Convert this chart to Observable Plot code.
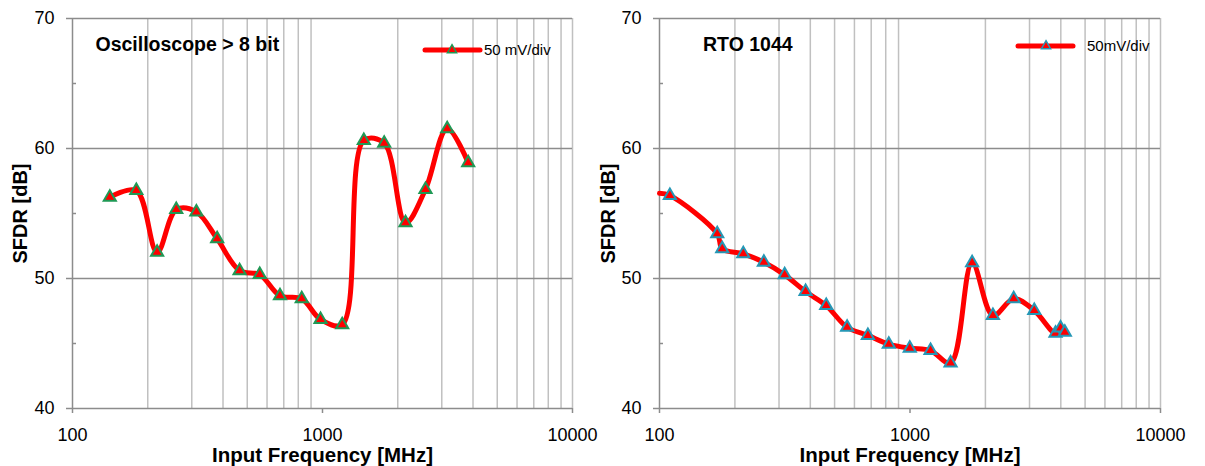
<!DOCTYPE html>
<html>
<head>
<meta charset="utf-8">
<script src="https://cdn.jsdelivr.net/npm/d3@7"></script>
<script src="https://cdn.jsdelivr.net/npm/@observablehq/plot@0.6"></script>
<style>
  html, body { margin: 0; padding: 0; background: #fff; }
  #wrap { display: flex; width: 1205px; height: 466px; background: #fff; }
  svg { display: block; overflow: visible; }
</style>
</head>
<body>
<div id="wrap"></div>
<script>
// ---- Data ----
const leftFreq = [141, 180, 218, 260, 313, 379, 466, 561, 676, 826, 982, 1199, 1463, 1765, 2148, 2582, 3153, 3826];
const leftSfdr = [56.25, 56.77, 52.02, 55.3, 55.12, 53.05, 50.6, 50.3, 48.67, 48.44, 46.85, 46.44, 60.62, 60.41, 54.28, 56.85, 61.52, 58.9];

const rightFreq = [100, 110, 170, 178, 216, 261, 316, 383, 463, 561, 679, 823, 998, 1208, 1452, 1770, 2143, 2594, 3134, 3810, 3990, 4150];
const rightSfdr = [56.55, 56.38, 53.44, 52.28, 51.9, 51.25, 50.28, 49.0, 47.92, 46.25, 45.62, 44.95, 44.64, 44.46, 43.5, 51.21, 47.15, 48.44, 47.54, 45.79, 46.2, 45.87];

const xTicks = [100, 1000, 10000];
const xGrid = [200, 300, 400, 500, 600, 700, 800, 900, 2000, 3000, 4000, 5000, 6000, 7000, 8000, 9000, 10000];
const yTicks = [40, 50, 60, 70];
const yGrid = [50, 60, 70];
const yMinor = [45, 55, 65];

const xLabel = "Input Frequency [MHz]";
const yLabel = "SFDR [dB]";

const leftTitle = "Oscilloscope > 8 bit";
const rightTitle = "RTO 1044";
const leftLegend = "50 mV/div";
const rightLegend = "50mV/div";

// ---- helpers ----
function legendMark(cfg) {
  return () => {
    const g = d3.create("svg:g");
    g.append("line")
      .attr("x1", cfg.x1).attr("x2", cfg.x2).attr("y1", cfg.y).attr("y2", cfg.y)
      .attr("stroke", "#ff0000").attr("stroke-width", 5).attr("stroke-linecap", "round");
    g.append("path")
      .attr("d", d3.symbol(d3.symbolTriangle, 36)())
      .attr("transform", `translate(${cfg.mx},${cfg.y})`)
      .attr("fill", "#ff0000").attr("stroke", cfg.stroke).attr("stroke-width", 1.5);
    g.append("text")
      .attr("x", cfg.tx).attr("y", cfg.y).attr("dy", "0.35em")
      .attr("text-anchor", "start")
      .attr("font-size", 15).attr("fill", "#000")
      .attr("font-family", "'Liberation Sans', Arial, sans-serif")
      .text(cfg.label);
    return g.node();
  };
}

function panel(cfg) {
  const data = cfg.freq.map((f, i) => ({f, v: cfg.sfdr[i]}));
  const markers = data.filter(d => d.f > 100);
  return Plot.plot({
    width: cfg.width,
    height: 466,
    marginLeft: cfg.marginLeft,
    marginRight: cfg.marginRight,
    marginTop: 18,
    marginBottom: 58,
    style: {fontFamily: "'Liberation Sans', Arial, sans-serif", background: "transparent", color: "#000", overflow: "visible"},
    x: {type: "log", domain: [100, 10000]},
    y: {domain: [40, 70]},
    marks: [
      Plot.ruleX(xGrid, {stroke: "#c0c0c0", strokeWidth: 1.5}),
      Plot.ruleY(yGrid, {stroke: "#8c8c8c", strokeWidth: 1.5}),
      Plot.ruleX([100], {stroke: "#8c8c8c", strokeWidth: 1.5}),
      Plot.ruleY([40], {stroke: "#8c8c8c", strokeWidth: 1.5}),
      Plot.axisX(xTicks, {
        tickSize: 5, tickPadding: 15, fontSize: 18, stroke: "#8c8c8c", strokeWidth: 1.5,
        tickFormat: d => String(d), label: null
      }),
      Plot.axisY(yTicks, {
        tickSize: 6, tickPadding: 12, fontSize: 18, stroke: "#8c8c8c", strokeWidth: 1.5,
        tickFormat: d => String(d), label: null
      }),
      Plot.axisY(yMinor, {
        tickSize: -4, tickPadding: 0, stroke: "#8c8c8c", strokeWidth: 1.5,
        tickFormat: () => "", label: null
      }),
      Plot.line(data, {x: "f", y: "v", curve: "catmull-rom", stroke: "#ff0000", strokeWidth: 5, strokeLinejoin: "round"}),
      Plot.dot(markers, {x: "f", y: "v", symbol: "triangle", r: 4.5, fill: "#ff0000", stroke: cfg.markerStroke, strokeWidth: 2}),
      Plot.text([cfg.title], {
        frameAnchor: "top-left", dx: cfg.titleDx, dy: 26, textAnchor: "start", lineAnchor: "middle",
        fontSize: 19.5, fontWeight: "bold", fill: "#000"
      }),
      Plot.text([yLabel], {
        frameAnchor: "left", dx: cfg.yLabelDx, rotate: -90, lineAnchor: "middle", textAnchor: "middle",
        fontSize: 20, fontWeight: "bold", fill: "#000"
      }),
      Plot.text([xLabel], {
        frameAnchor: "bottom", dy: 47, lineAnchor: "middle", textAnchor: "middle",
        fontSize: 20.5, fontWeight: "bold", fill: "#000"
      }),
      legendMark(cfg.legend)
    ]
  });
}

const wrap = document.getElementById("wrap");
wrap.appendChild(panel({
  freq: leftFreq, sfdr: leftSfdr, width: 595, marginLeft: 72, marginRight: 23,
  markerStroke: "#1f9955", title: leftTitle, titleDx: 23, yLabelDx: -52,
  legend: {x1: 425, x2: 480, mx: 452, y: 50, tx: 484, label: leftLegend, stroke: "#1f9955"}
}));
wrap.appendChild(panel({
  freq: rightFreq, sfdr: rightSfdr, width: 610, marginLeft: 64, marginRight: 45,
  markerStroke: "#2597b5", title: rightTitle, titleDx: 43.5, yLabelDx: -51,
  legend: {x1: 423, x2: 478, mx: 451, y: 46, tx: 492, label: rightLegend, stroke: "#2597b5"}
}));
</script>
</body>
</html>
